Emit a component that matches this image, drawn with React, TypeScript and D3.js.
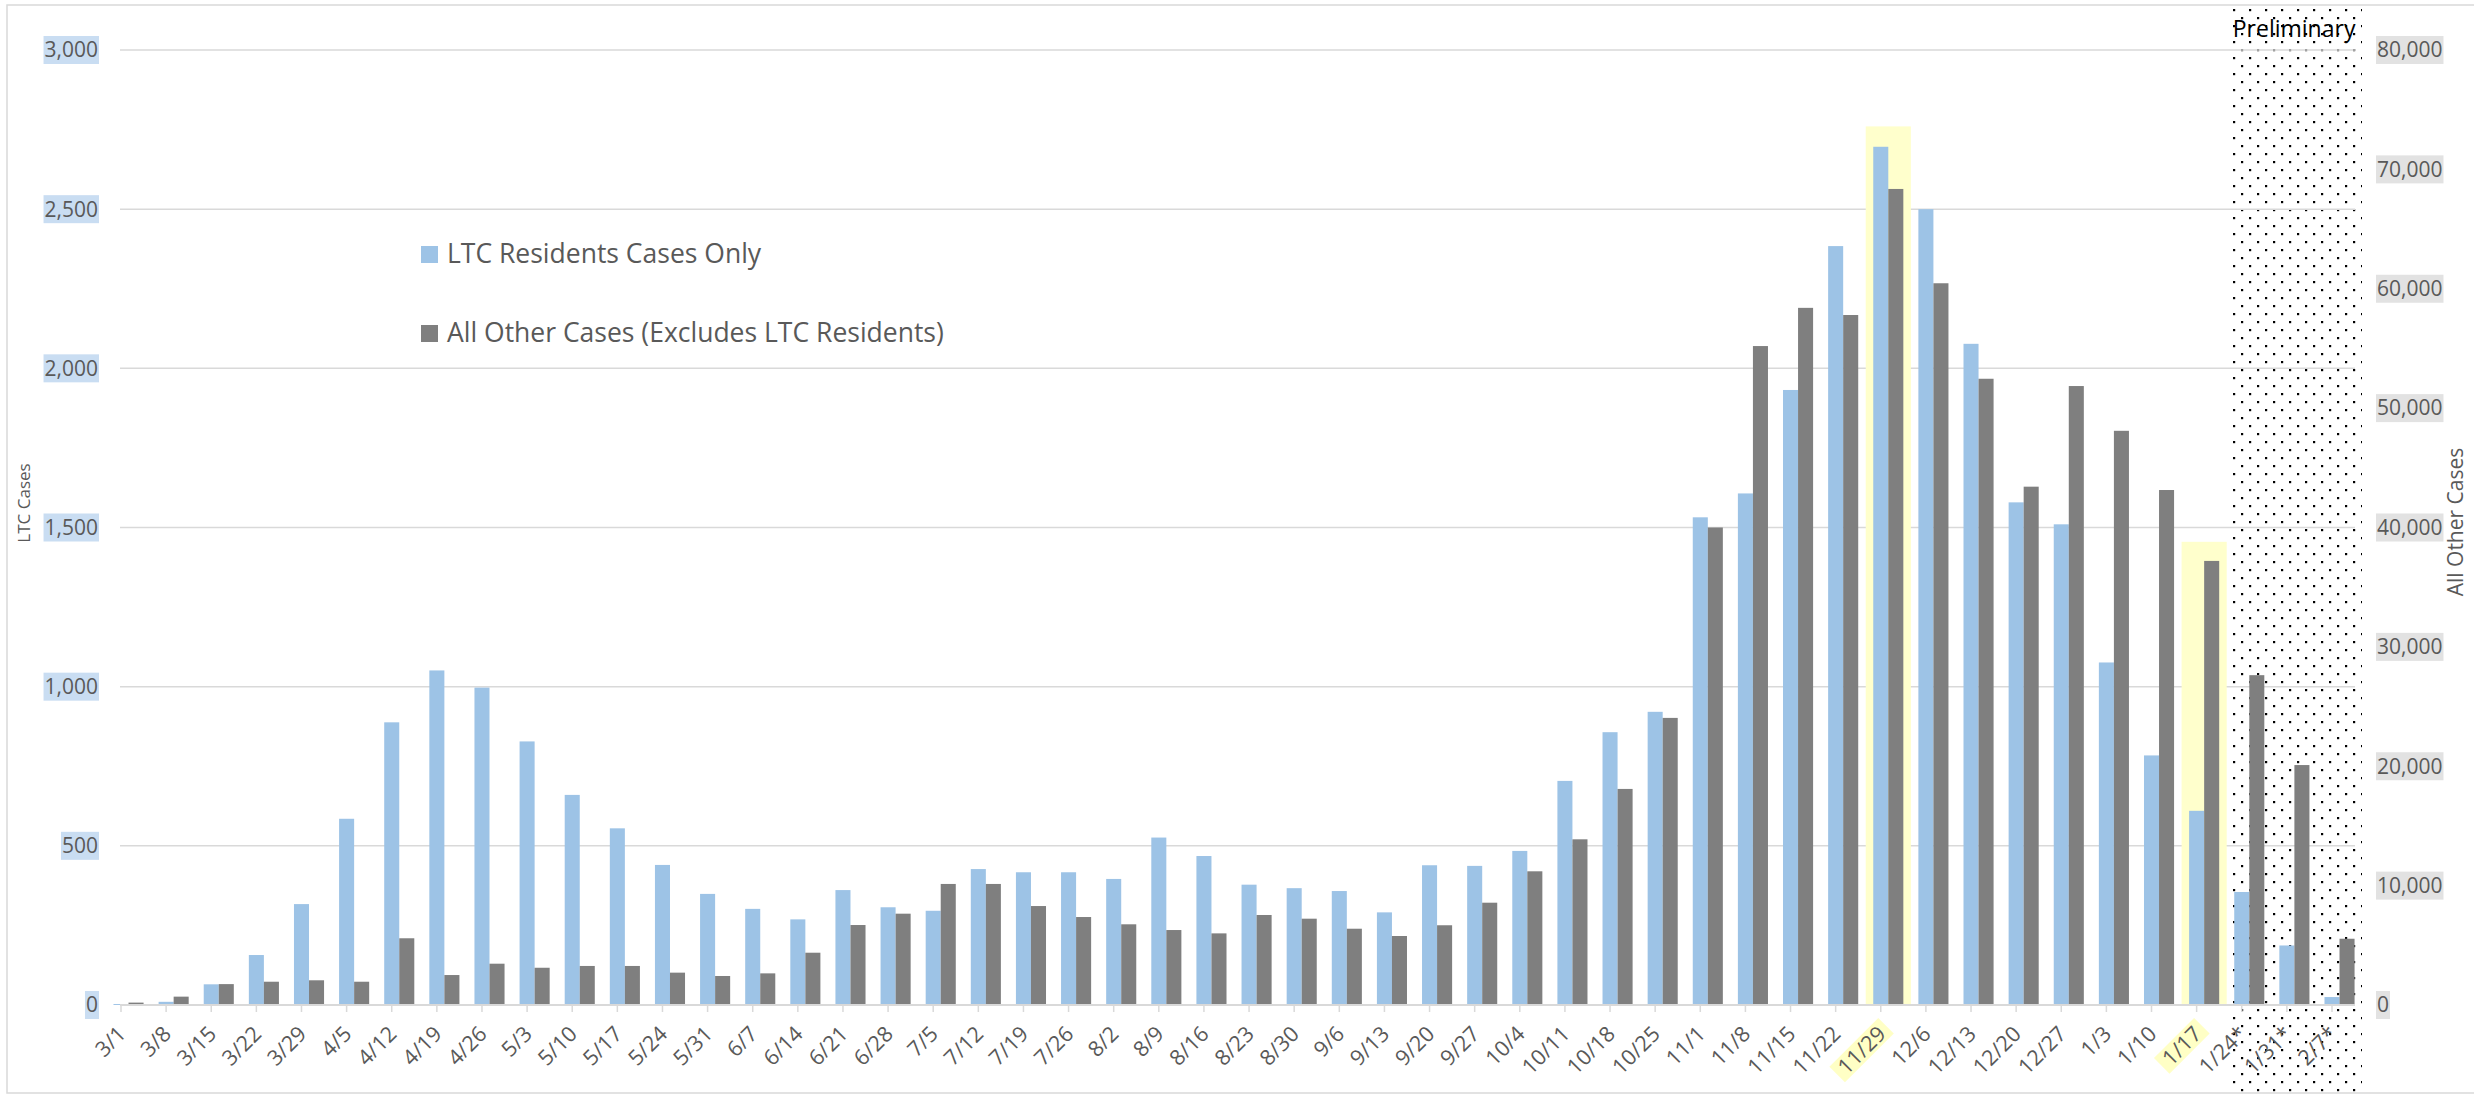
import React, { useEffect, useRef } from "react";
import * as d3 from "d3";

const categories = [
  "3/1","3/8","3/15","3/22","3/29","4/5","4/12","4/19","4/26","5/3","5/10","5/17","5/24","5/31",
  "6/7","6/14","6/21","6/28","7/5","7/12","7/19","7/26","8/2","8/9","8/16","8/23","8/30","9/6",
  "9/13","9/20","9/27","10/4","10/11","10/18","10/25","11/1","11/8","11/15","11/22","11/29","12/6",
  "12/13","12/20","12/27","1/3","1/10","1/17","1/24*","1/31*","2/7*",
];

const ltcCases = [
  3, 10, 65, 157, 317, 585, 888, 1051, 997, 828, 660, 555, 440, 349,
  302, 269, 361, 307, 296, 427, 417, 417, 396, 526, 468, 378, 367, 358,
  291, 439, 437, 484, 704, 857, 921, 1532, 1607, 1932, 2384, 2696, 2500,
  2077, 1579, 1510, 1076, 784, 610, 355, 187, 25,
];

const otherCases = [
  200, 700, 1750, 1950, 2070, 1950, 5590, 2510, 3460, 3120, 3270, 3270, 2710, 2430,
  2650, 4380, 6700, 7650, 10140, 10140, 8290, 7370, 6760, 6280, 6000, 7540, 7230, 6390,
  5780, 6680, 8570, 11200, 13880, 18100, 24050, 40000, 55200, 58400, 57800, 68360, 60460,
  52460, 43420, 51850, 48100, 43140, 37200, 27630, 20100, 5550,
];

const highlightCategories = ["11/29", "1/17"];
const highlightLevels = [2760, 1455];

const preliminaryCategories = ["1/24*", "1/31*", "2/7*"];

const leftTicks = [0, 500, 1000, 1500, 2000, 2500, 3000];
const rightTicks = [0, 10000, 20000, 30000, 40000, 50000, 60000, 70000, 80000];

const legendLabels = ["LTC Residents Cases Only", "All Other Cases (Excludes LTC Residents)"];
const seriesColors = ["#9dc3e6", "#7f7f7f"];

const W = 2474;
const H = 1095;
const FONT = "'Open Sans', 'Noto Sans', sans-serif";
const TEXT = "#595959";
const GRID = "#d9d9d9";

export default function App() {
  const ref = useRef<SVGSVGElement | null>(null);

  useEffect(() => {
    document.body.style.margin = "0";
    const svg = d3.select(ref.current);
    svg.selectAll("*").remove();

    const plotLeft = 120;
    const plotRight = 2355;
    const y0 = 1005;
    const yTop = 50;

    const x = d3.scalePoint<string>().domain(categories).range([121, 2332]);
    const step = x.step();
    const bw = step / 3;
    const yL = d3.scaleLinear().domain([0, 3000]).range([y0, yTop]);
    const yR = d3.scaleLinear().domain([0, 80000]).range([y0, yTop]);

    // pattern
    const defs = svg.append("defs");
    const pat = defs
      .append("pattern")
      .attr("id", "dots")
      .attr("patternUnits", "userSpaceOnUse")
      .attr("width", 16)
      .attr("height", 16);
    pat.append("rect").attr("x", 1).attr("y", 1).attr("width", 2.2).attr("height", 2.2).attr("fill", "#000");
    pat.append("rect").attr("x", 9).attr("y", 9).attr("width", 2.2).attr("height", 2.2).attr("fill", "#000");

    svg.append("rect").attr("width", W).attr("height", H).attr("fill", "#fff");

    // outer border
    svg
      .append("rect")
      .attr("x", 7)
      .attr("y", 5)
      .attr("width", W)
      .attr("height", 1088)
      .attr("fill", "none")
      .attr("stroke", GRID)
      .attr("stroke-width", 1.5);

    // preliminary region
    const pFirst = x(preliminaryCategories[0])!;
    const pLast = x(preliminaryCategories[preliminaryCategories.length - 1])!;
    const pX0 = pFirst - 10;
    const pX1 = pLast + 30;
    svg
      .append("rect")
      .attr("x", pX0)
      .attr("y", 6)
      .attr("width", pX1 - pX0)
      .attr("height", 1087)
      .attr("fill", "url(#dots)");

    // gridlines
    svg
      .append("g")
      .selectAll("line")
      .data(leftTicks.filter((d) => d > 0))
      .join("line")
      .attr("x1", plotLeft)
      .attr("x2", plotRight)
      .attr("y1", (d) => yL(d))
      .attr("y2", (d) => yL(d))
      .attr("stroke", GRID)
      .attr("stroke-width", 1.5);

    // highlight bars
    svg
      .append("g")
      .selectAll("rect")
      .data(highlightCategories)
      .join("rect")
      .attr("x", (d) => x(d)! + bw / 2 - step / 2)
      .attr("width", step)
      .attr("y", (d, i) => yL(highlightLevels[i]))
      .attr("height", (d, i) => y0 - yL(highlightLevels[i]))
      .attr("fill", "#ffffcc");

    // LTC bars
    svg
      .append("g")
      .selectAll("rect")
      .data(categories)
      .join("rect")
      .attr("x", (d) => x(d)! - bw / 2)
      .attr("width", bw)
      .attr("y", (d, i) => yL(ltcCases[i]))
      .attr("height", (d, i) => y0 - yL(ltcCases[i]))
      .attr("fill", seriesColors[0]);

    // Other bars
    svg
      .append("g")
      .selectAll("rect")
      .data(categories)
      .join("rect")
      .attr("x", (d) => x(d)! + bw / 2)
      .attr("width", bw)
      .attr("y", (d, i) => yR(otherCases[i]))
      .attr("height", (d, i) => y0 - yR(otherCases[i]))
      .attr("fill", seriesColors[1]);

    // axis line + ticks
    svg
      .append("line")
      .attr("x1", plotLeft)
      .attr("x2", plotRight)
      .attr("y1", y0)
      .attr("y2", y0)
      .attr("stroke", GRID)
      .attr("stroke-width", 2);
    svg
      .append("g")
      .selectAll("line")
      .data(categories)
      .join("line")
      .attr("x1", (d) => x(d)!)
      .attr("x2", (d) => x(d)!)
      .attr("y1", y0)
      .attr("y2", y0 + 7)
      .attr("stroke", GRID)
      .attr("stroke-width", 1.5);

    // category labels
    const labG = svg.append("g");
    categories.forEach((c) => {
      const g = labG.append("g").attr("transform", `translate(${x(c)! + 1},1030) rotate(-45)`);
      const t = g
        .append("text")
        .attr("text-anchor", "end")
        .attr("dy", "0.35em")
        .attr("font-family", FONT)
        .attr("font-size", 21.5)
        .attr("fill", TEXT)
        .text(c);
      if (highlightCategories.includes(c)) {
        const w = (t.node() as SVGTextElement).getComputedTextLength();
        g.insert("rect", "text")
          .attr("x", -w - 6)
          .attr("y", -11)
          .attr("width", w + 12)
          .attr("height", 22)
          .attr("fill", "#ffffc5");
      }
    });

    // left axis labels with background
    const lg = svg.append("g");
    leftTicks.forEach((v) => {
      const t = lg
        .append("text")
        .attr("x", 98)
        .attr("y", yL(v))
        .attr("dy", "0.35em")
        .attr("text-anchor", "end")
        .attr("font-family", FONT)
        .attr("font-size", 21)
        .attr("fill", TEXT)
        .text(d3.format(",")(v));
      const w = (t.node() as SVGTextElement).getComputedTextLength();
      lg.insert("rect", "text")
        .attr("x", 98 - w - 1)
        .attr("y", yL(v) - 14)
        .attr("width", w + 2)
        .attr("height", 28)
        .attr("fill", "#c9ddf2");
    });

    // right axis labels with background
    const rg = svg.append("g");
    rightTicks.forEach((v) => {
      const t = rg
        .append("text")
        .attr("x", 2377)
        .attr("y", yR(v))
        .attr("dy", "0.35em")
        .attr("text-anchor", "start")
        .attr("font-family", FONT)
        .attr("font-size", 21)
        .attr("fill", TEXT)
        .text(d3.format(",")(v));
      const w = (t.node() as SVGTextElement).getComputedTextLength();
      rg.insert("rect", "text")
        .attr("x", 2376)
        .attr("y", yR(v) - 14)
        .attr("width", w + 2)
        .attr("height", 28)
        .attr("fill", "#e2e2e2");
    });

    // axis titles
    svg
      .append("text")
      .attr("transform", "translate(30,503) rotate(-90)")
      .attr("text-anchor", "middle")
      .attr("font-family", FONT)
      .attr("font-size", 17)
      .attr("fill", TEXT)
      .text("LTC Cases");
    svg
      .append("text")
      .attr("transform", "translate(2463,522) rotate(-90)")
      .attr("text-anchor", "middle")
      .attr("font-family", FONT)
      .attr("font-size", 21)
      .attr("fill", TEXT)
      .text("All Other Cases");

    // legend
    const leg = svg.append("g");
    legendLabels.forEach((lab, i) => {
      const yy = 246 + i * 79;
      leg.append("rect").attr("x", 421).attr("y", yy).attr("width", 17).attr("height", 17).attr("fill", seriesColors[i]);
      leg
        .append("text")
        .attr("x", 447)
        .attr("y", yy + 17)
        .attr("font-family", FONT)
        .attr("font-size", 26.5)
        .attr("fill", TEXT)
        .text(lab);
    });

    // preliminary label
    svg
      .append("text")
      .attr("x", pX0 + 1)
      .attr("y", 37)
      .attr("font-family", FONT)
      .attr("font-size", 23)
      .attr("fill", "#000")
      .text("Preliminary");
  }, []);

  return <svg ref={ref} width={W} height={H} style={{ display: "block" }} />;
}
